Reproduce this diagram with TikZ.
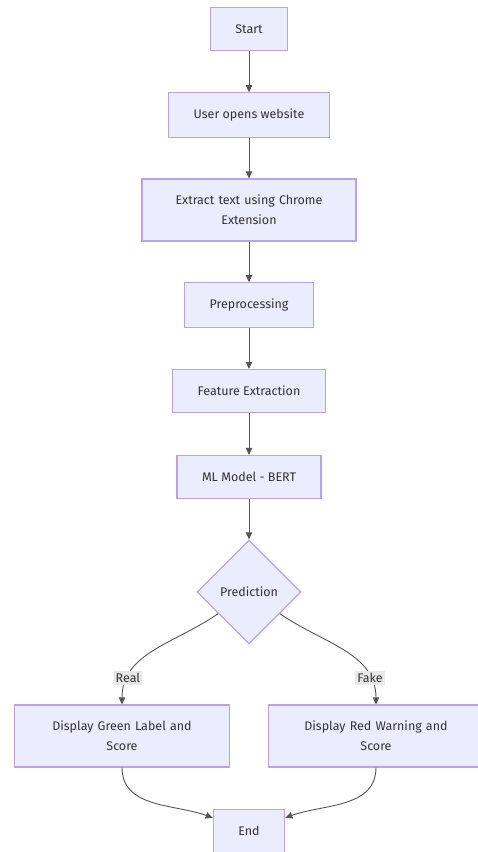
\documentclass[tikz,border=0pt]{standalone}
\usepackage{fontspec}
\setmainfont{Fira Sans}
\usepackage{xcolor}
\usepackage{tikz}
\usetikzlibrary{shapes.geometric, arrows.meta}

\definecolor{nodefill}{HTML}{ECECFF}
\definecolor{nodeline}{HTML}{B8A2EC}
\definecolor{inkgray}{HTML}{333333}
\definecolor{linegray}{HTML}{555555}
\definecolor{labelbg}{HTML}{E8E8E8}

\begin{document}
\begin{tikzpicture}[node distance=86pt, auto, x=1pt, y=1pt, font=\fontsize{12.5}{20}\selectfont, text=inkgray]
    % Define styles
    \tikzstyle{process} = [rectangle, draw=nodeline, fill=nodefill, line width=1.3pt, text centered, minimum height=43pt, inner xsep=25pt, inner ysep=16pt]
    \tikzstyle{decision} = [diamond, draw=nodeline, fill=nodefill, line width=1.3pt, aspect=1, minimum width=104pt, minimum height=104pt, inner sep=0pt]
    \tikzstyle{edgelabel} = [fill=labelbg, inner sep=2pt, text=inkgray]
    \tikzstyle{arrow} = [draw=linegray, line width=0.9pt, -{Triangle[length=7pt, width=6.5pt]}]

    \useasboundingbox (0,0) rectangle (477,-852);

    % Main flow
    \node [process] (start) at (249,-29) {Start};
    \node [process, below of=start] (opens) {User opens website};
    \node [process, below of=opens, yshift=-9pt, text width=164pt] (extract) {Extract text using Chrome\\Extension};
    \node [process, below of=extract, yshift=-9pt] (preproc) {Preprocessing};
    \node [process, below of=preproc] (features) {Feature Extraction};
    \node [process, below of=features] (bert) {ML Model - BERT};

    % Decision
    \node [decision, below of=bert, yshift=-29pt] (predict) {Prediction};

    % Results
    \node [process, below of=predict, xshift=-127pt, yshift=-58pt, text width=165pt] (real) {Display Green Label and\\Score};
    \node [process, below of=predict, xshift=127pt, yshift=-58pt, text width=165pt] (fake) {Display Red Warning and\\Score};
    \node [process, below of=predict, yshift=-153pt] (finish) {End};

    % Arrows
    \draw [arrow] (start) -- (opens);
    \draw [arrow] (opens) -- (extract);
    \draw [arrow] (extract) -- (preproc);
    \draw [arrow] (preproc) -- (features);
    \draw [arrow] (features) -- (bert);
    \draw [arrow] (bert) -- (predict);

    \draw [arrow] (predict.215) to[out=215, in=90] node[edgelabel, pos=0.8, anchor=center] {Real} (real.north);
    \draw [arrow] (predict.325) to[out=-35, in=90] node[edgelabel, pos=0.8, anchor=center] {Fake} (fake.north);

    \draw [arrow] (real.south) to[out=-90, in=160] (finish.160);
    \draw [arrow] (fake.south) to[out=-90, in=20] (finish.20);
\end{tikzpicture}
\end{document}
